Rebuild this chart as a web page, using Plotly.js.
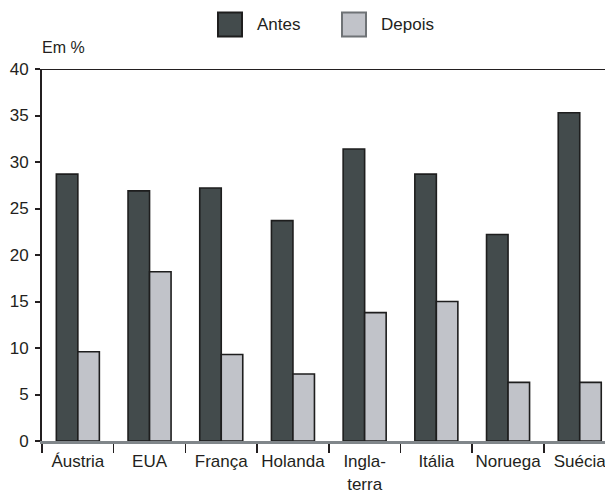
<!DOCTYPE html>
<html>
<head>
<meta charset="utf-8">
<script src="https://cdn.plot.ly/plotly-3.0.1.min.js"></script>
<style>html,body{margin:0;padding:0;background:#fff;}#chart{width:605px;height:492px;}</style>
</head>
<body>
<div id="chart"></div>
<script>
var categories = ["Áustria", "EUA", "França", "Holanda", "Ingla-<br>terra", "Itália", "Noruega", "Suécia"];
var antes = [28.7, 26.9, 27.2, 23.7, 31.4, 28.7, 22.2, 35.3];
var depois = [9.6, 18.2, 9.3, 7.2, 13.8, 15.0, 6.3, 6.3];
var seriesNames = ["Antes", "Depois"];
var yTicks = [0, 5, 10, 15, 20, 25, 30, 35, 40];
var yUnit = "Em %";

var W = 605, H = 492, L = 42, R = 0, T = 69, B = 51;
var PW = W - L - R, PH = H - T - B;
function px(x) { return (x - L) / PW; }
function py(y) { return (H - B - y) / PH; }

var txt = "#231f20";
var font = {family: "Liberation Sans, Arial, sans-serif", size: 17, color: txt};

var traces = [
  {type: "bar", name: seriesNames[0], x: categories, y: antes,
   marker: {color: "#434b4c", line: {color: "#1e1e1e", width: 1.6}}},
  {type: "bar", name: seriesNames[1], x: categories, y: depois,
   marker: {color: "#c1c3c9", line: {color: "#1e1e1e", width: 1.6}}}
];

var layout = {
  width: W, height: H,
  margin: {l: L, r: R, t: T, b: B, pad: 0},
  paper_bgcolor: "#fff", plot_bgcolor: "#fff",
  font: font,
  showlegend: false,
  barmode: "group", bargap: 0.4, bargroupgap: 0,
  xaxis: {
    type: "category", range: [-0.5, -0.5 + PW / 71.7],
    tickson: "boundaries", ticks: "outside", ticklen: 9, tickwidth: 1.5, tickcolor: txt,
    tickangle: 0, automargin: false, ticklabelstandoff: 3,
    showline: true, linecolor: "#80868a", linewidth: 3,
    showgrid: false, zeroline: false, tickfont: font, fixedrange: true
  },
  yaxis: {
    range: [0, 40], tickvals: yTicks, ticktext: yTicks.map(String),
    ticks: "outside", ticklen: 5, tickwidth: 2, tickcolor: txt, automargin: false,
    ticklabelstandoff: 3,
    showline: true, linecolor: txt, linewidth: 2,
    showgrid: false, zeroline: false, tickfont: font, fixedrange: true
  },
  shapes: [
    {type: "line", xref: "paper", yref: "y", x0: 0, x1: 1, y0: 40, y1: 40,
     line: {color: txt, width: 2}},
    {type: "rect", xref: "paper", yref: "paper", x0: px(218), x1: px(242), y0: py(36.5), y1: py(12.5),
     fillcolor: "#434b4c", line: {color: "#1e1e1e", width: 2}},
    {type: "rect", xref: "paper", yref: "paper", x0: px(342), x1: px(366), y0: py(36.5), y1: py(12.5),
     fillcolor: "#c1c3c9", line: {color: "#6f7376", width: 2}}
  ],
  annotations: [
    {xref: "paper", yref: "paper", x: px(255), y: py(24), xanchor: "left", yanchor: "middle",
     text: seriesNames[0], showarrow: false, font: font},
    {xref: "paper", yref: "paper", x: px(379), y: py(24), xanchor: "left", yanchor: "middle",
     text: seriesNames[1], showarrow: false, font: font},
    {xref: "paper", yref: "paper", x: px(40), y: py(47), xanchor: "left", yanchor: "middle",
     text: yUnit, showarrow: false, font: {family: font.family, size: 16, color: txt}}
  ]
};

Plotly.newPlot("chart", traces, layout, {displayModeBar: false, staticPlot: true});
</script>
</body>
</html>
